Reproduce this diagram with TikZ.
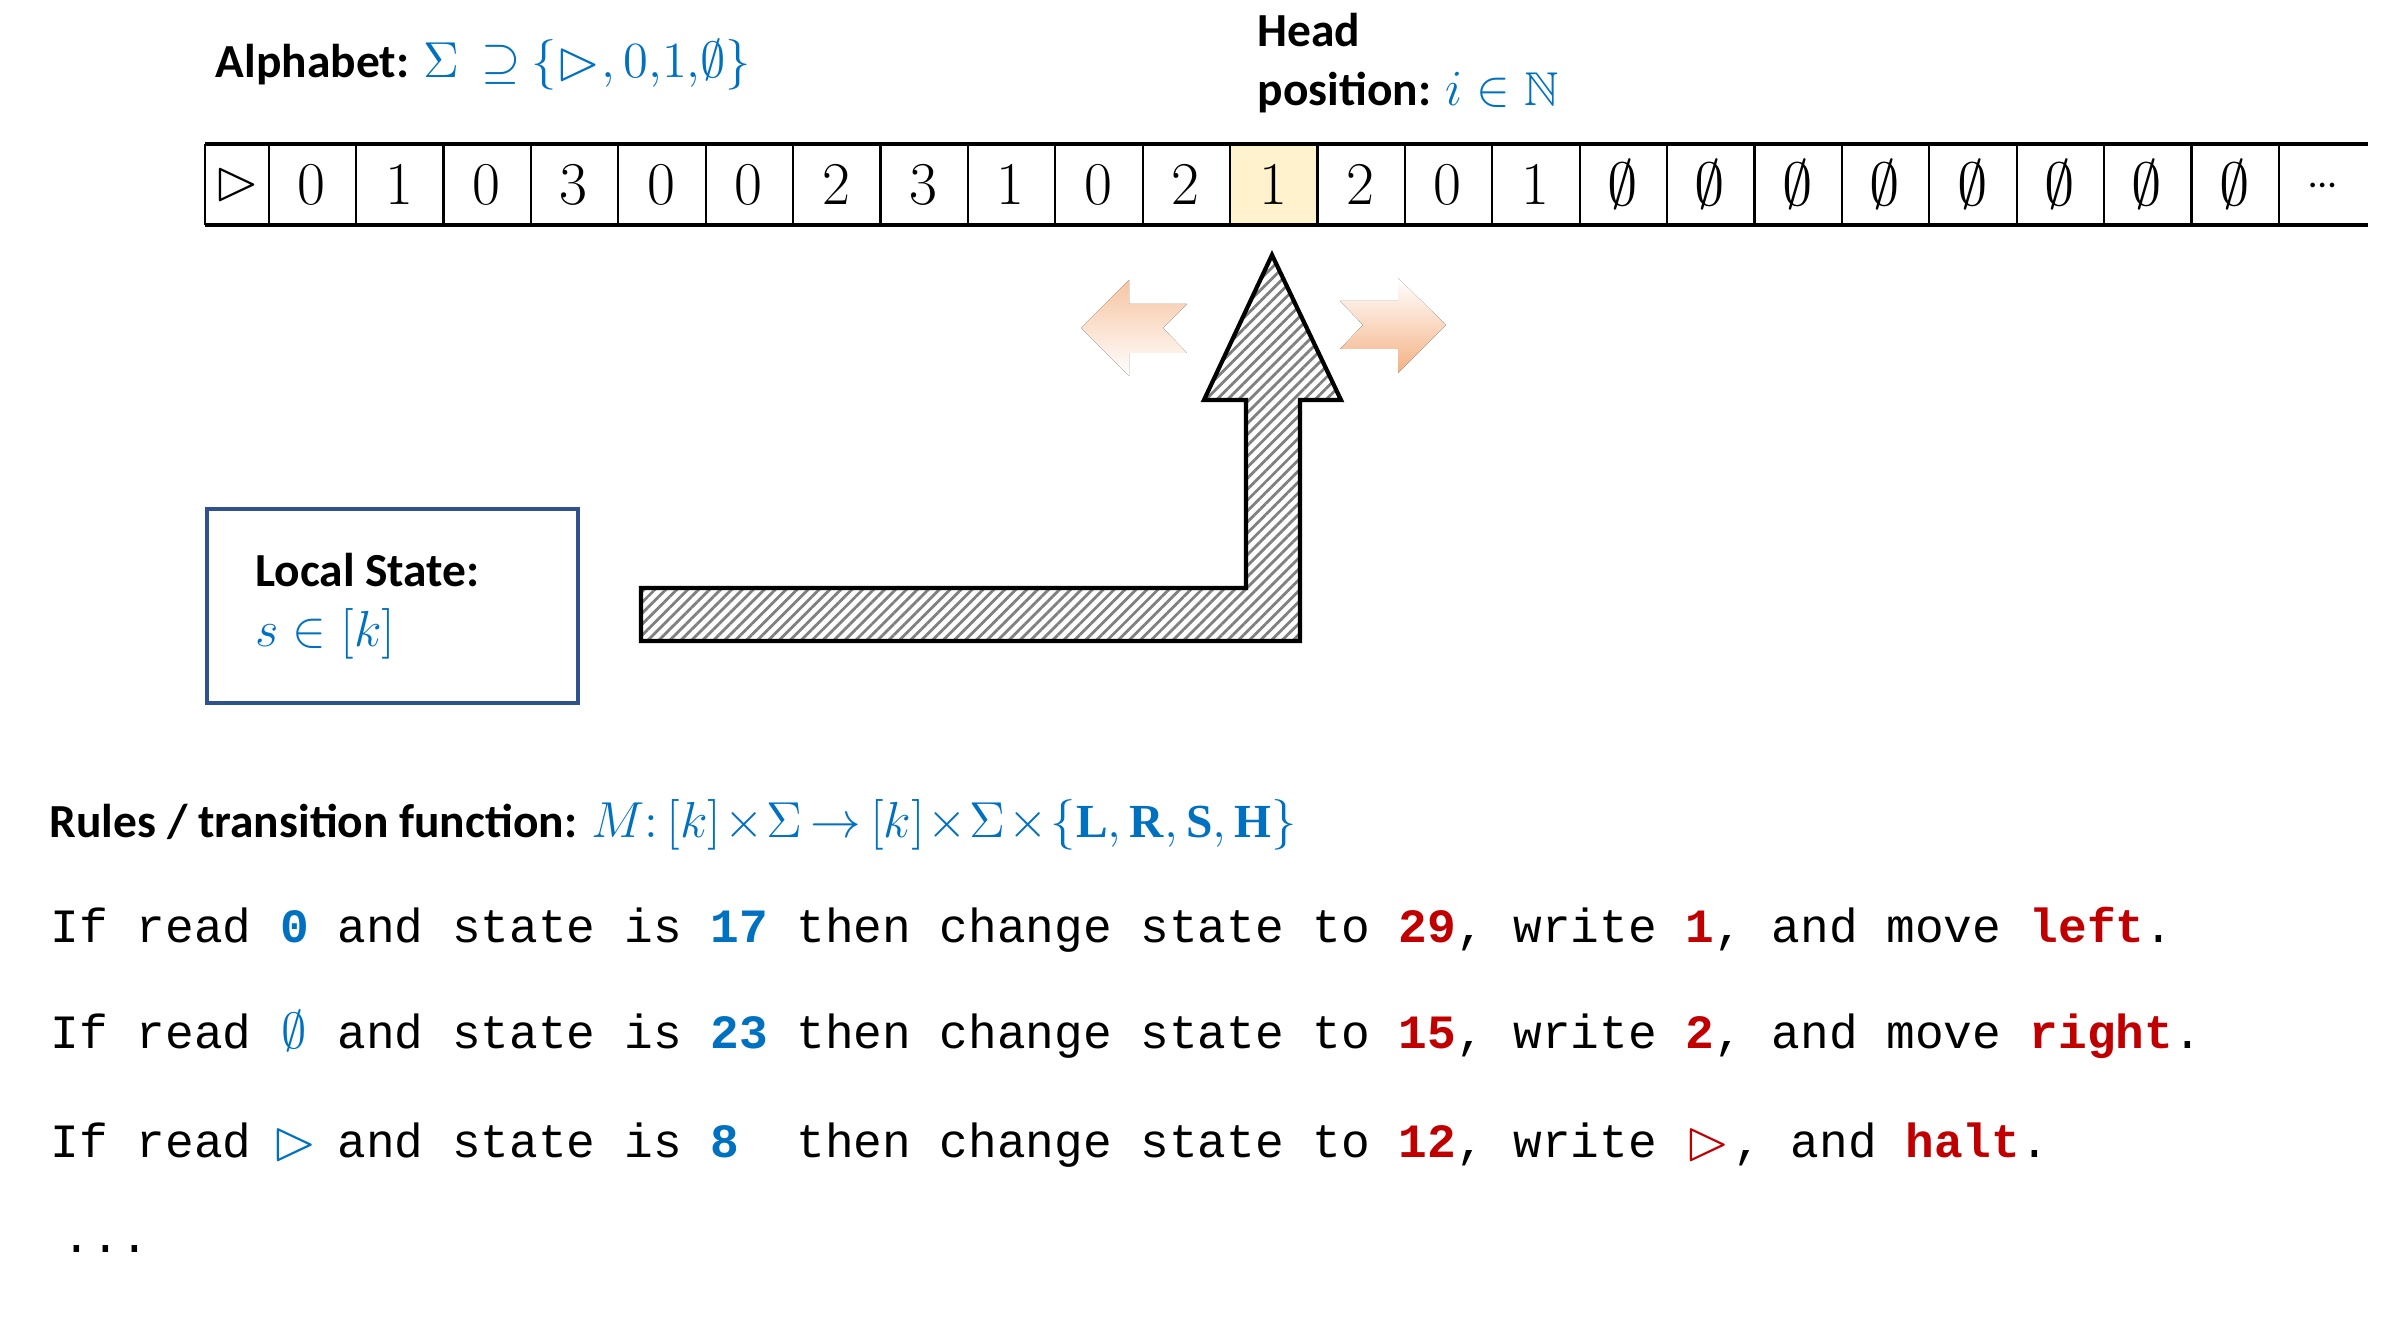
\documentclass[tikz,border=0pt]{standalone}
\usepackage{amssymb}
\usepackage{graphicx}
\usepackage[no-math]{fontspec}
\setmainfont{Carlito}
\setmonofont{Liberation Mono}
\newfontfamily\serifb{Liberation Serif}
\usepackage{tkz-euclide}
\usetikzlibrary{positioning,backgrounds,patterns.meta}

\definecolor{azul}{HTML}{0070C0}
\definecolor{rojo}{HTML}{C00000}
\definecolor{marco}{HTML}{2F528F}
\definecolor{naranja}{HTML}{F4B183}
\definecolor{resalte}{HTML}{FFF2CC}

\newcommand{\uncar}[1]{\makebox[0.6em]{#1}}
\newcommand{\az}[1]{\textcolor{azul}{\textbf{#1}}}
\newcommand{\ro}[1]{\textcolor{rojo}{\textbf{#1}}}
\newcommand{\tri}{\raisebox{-0.1ex}{\scalebox{1.2}{$\vartriangleright$}}}
\newcommand{\mov}[1]{\textnormal{\serifb\bfseries #1}}

\tikzset{
  celda/.style={minimum width=0.874cm, minimum height=0.79cm, inner sep=0pt,
    font=\fontsize{16.5}{18}\selectfont},
  titulo/.style={font=\fontsize{13.5}{17}\selectfont\bfseries, align=left, inner sep=0pt},
  regla/.style={font=\ttfamily\fontsize{13.6}{16}\selectfont, anchor=west, inner sep=0pt},
  estado/.style={draw=marco, line width=1.4pt, minimum width=3.71cm, minimum height=1.94cm},
  cabeza/.style={draw=black, line width=1.2pt, line join=miter,
    pattern={Lines[angle=45,distance=2.2pt,line width=0.8pt]}, pattern color=gray},
  izquierda/.style={top color=naranja!75, middle color=naranja, bottom color=white},
  derecha/.style={top color=white, bottom color=naranja}
}

\begin{document}
\begin{tikzpicture}
        % Fija el marco del dibujo.
        \useasboundingbox (0,0) rectangle (23.89,13.32);

        % Escribe el alfabeto y la posición del cabezal.
        \node[titulo, anchor=west] (alfabeto) at (2.15,12.67)
          {Alphabet: \textcolor{azul}{\thickmuskip=4mu$\Sigma\ \supseteq\{\tri,0,\!1,\!\emptyset\}$}};
        \node[titulo, anchor=west] (posicion) at (12.57,12.69)
          {Head\\position: \textcolor{azul}{$i\in\mathbb{N}$}};

        % Dibuja las celdas de la cinta.
        \node[celda, minimum width=0.62cm] (t0) at (2.37,11.475) {$\vartriangleright$};
        \foreach \s [count=\i] in {0,1,0,3,0,0,2,3,1,0,2,1,2,0,1,\emptyset,\emptyset,\emptyset,\emptyset,\emptyset,\emptyset,\emptyset,\emptyset}
          \node[celda] (t\i) at ({2.68+(\i-0.5)*0.874},11.475) {$\s$};
        \node[celda, right=0pt of t23] (t24) {\fontsize{11}{12}\selectfont\raisebox{-0.35ex}{…}};

        % Resalta la celda bajo el cabezal.
        \begin{scope}[on background layer]
          \fill[resalte] (t12.north west) rectangle (t12.south east);
        \end{scope}

        % Traza los bordes de la cinta.
        \draw[line width=0.6pt] (t0.north west) -- (t0.south west);
        \foreach \i in {0,...,23}
          \draw[line width=0.6pt] (t\i.north east) -- (t\i.south east);
        \draw[line width=1.1pt] (t0.north west) -- (t24.north east);
        \draw[line width=1.1pt] (t0.south west) -- (t24.south east);

        % Dibuja la flecha del cabezal.
        \tkzDefPoints{12.72/10.77/A,13.41/9.32/B,13.00/9.32/C,13.00/6.91/D,6.41/6.91/E,
          6.41/7.44/F,12.46/7.44/G,12.46/9.32/H,12.04/9.32/I}
        \tkzDrawPolygon[cabeza](A,B,C,D,E,F,G,H,I)

        % Dibuja las flechas de movimiento.
        \tkzDefPoints{10.81/10.04/L1,11.29/10.52/L2,11.29/10.28/L3,11.87/10.28/L4,
          11.63/10.04/L5,11.87/9.79/L6,11.29/9.79/L7,11.29/9.56/L8}
        \tkzDefPoints{13.40/10.31/R1,13.63/10.07/R2,13.40/9.83/R3,13.98/9.83/R4,
          13.98/9.59/R5,14.46/10.07/R6,13.98/10.54/R7,13.98/10.31/R8}
        \tkzFillPolygon[izquierda](L1,L2,L3,L4,L5,L6,L7,L8)
        \tkzFillPolygon[derecha](R1,R2,R3,R4,R5,R6,R7,R8)

        % Dibuja el estado local.
        \node[estado] (estado) at (3.925,7.26) {};
        \node[titulo, anchor=west] (local) at ([xshift=0.5cm]estado.west)
          {Local State:\\\textcolor{azul}{$s\in[k]$}};

        % Escribe las reglas de transición.
        \node[titulo, anchor=west] (reglas) at (0.49,5.07)
          {Rules / transition function: \textcolor{azul}{\medmuskip=1mu\thickmuskip=3mu$M{:}\,[k]\times\Sigma\to[k]\times\Sigma\times\{\mov{L},\mov{R},\mov{S},\mov{H}\}$}};
        \node[regla] (r1) at (0.50,4.02)
          {If read \az{0} and state is \az{17} then change state to \ro{29}, write \ro{1}, and move \ro{left}.};
        \node[regla] (r2) at (0.50,2.97)
          {If read \uncar{\textcolor{azul}{$\emptyset$}} and state is \az{23} then change state to \ro{15}, write \ro{2}, and move \ro{right}.};
        \node[regla] (r3) at (0.50,1.87)
          {If read \uncar{\textcolor{azul}{\tri}} and state is \az{8}~ then change state to \ro{12}, write \makebox[1em][l]{\textcolor{rojo}{\tri}}, and \ro{halt}.};
        \node[regla] (r4) at (0.50,0.83) {\hspace{0.25em}...};
\end{tikzpicture}
\end{document}
